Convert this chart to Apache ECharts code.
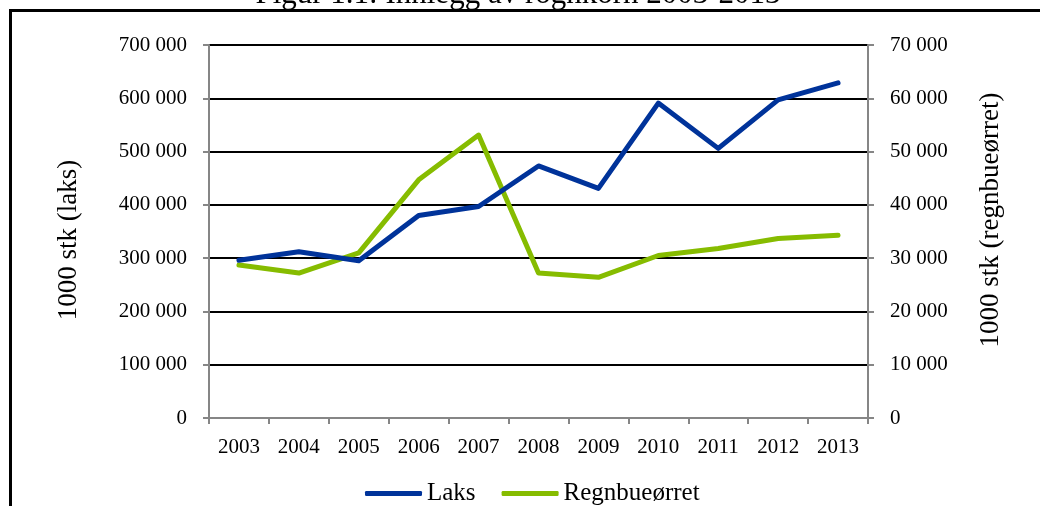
<!DOCTYPE html>
<html>
<head>
<meta charset="utf-8">
<script src="https://cdn.jsdelivr.net/npm/echarts@6/dist/echarts.min.js"></script>
<style>
html,body{margin:0;padding:0;background:#fff;}
#c{width:1040px;height:506px;}
</style>
</head>
<body>
<div id="c"></div>
<script>
const titleText = 'Figur 1.1: Innlegg av rognkorn 2003-2013';
const years = ['2003','2004','2005','2006','2007','2008','2009','2010','2011','2012','2013'];
const laks = [296000, 312000, 295000, 380000, 397000, 473000, 431000, 591000, 506000, 597000, 629000];
const regnbueorret = [28700, 27200, 31000, 44700, 53100, 27200, 26400, 30500, 31800, 33700, 34300];
const leftName = '1000 stk (laks)';
const rightName = '1000 stk (regnbueørret)';
const seriesNames = ['Laks', 'Regnbueørret'];

const FONT = 'Liberation Serif';
const fmt = v => v === 0 ? '0' : String(v).replace(/\B(?=(\d{3})+(?!\d))/g, ' ');

const chart = echarts.init(document.getElementById('c'), null, {renderer: 'canvas'});
chart.setOption({
  animation: false,
  backgroundColor: '#fff',
  textStyle: {fontFamily: FONT, color: '#000'},
  graphic: [
    {type: 'text', x: 518, y: 10, style: {text: titleText, font: '31px "Liberation Serif"', fill: '#000', textAlign: 'center', textVerticalAlign: 'bottom'}, z: 99},
    {type: 'rect', shape: {x: 10.5, y: 10.5, width: 1200, height: 700}, style: {fill: 'none', stroke: '#000', lineWidth: 3}, z: 100},
    {type: 'text', x: 69, y: 240, rotation: Math.PI / 2, style: {text: leftName, font: '27px "Liberation Serif"', fill: '#000', textAlign: 'center', textVerticalAlign: 'middle'}, z: 100},
    {type: 'text', x: 991, y: 220, rotation: Math.PI / 2, style: {text: rightName, font: '27px "Liberation Serif"', fill: '#000', textAlign: 'center', textVerticalAlign: 'middle'}, z: 100}
  ],
  grid: {left: 209, right: 172, top: 45, bottom: 88, containLabel: false},
  legend: {
    left: 360, top: 476,
    itemWidth: 57, itemHeight: 5, itemGap: 26,
    icon: 'roundRect',
    textStyle: {fontFamily: FONT, fontSize: 25, color: '#000'},
    data: seriesNames
  },
  xAxis: {
    type: 'category', data: years, boundaryGap: true,
    axisLine: {lineStyle: {color: '#868686', width: 2}},
    axisTick: {show: true, interval: 0, length: 6, lineStyle: {color: '#868686', width: 2}},
    axisLabel: {fontFamily: FONT, fontSize: 21, color: '#000', margin: 19, interval: 0}
  },
  yAxis: [
    {
      type: 'value', min: 0, max: 700000, interval: 100000, position: 'left',
      axisLine: {show: true, lineStyle: {color: '#868686', width: 2}},
      axisTick: {show: true, length: 6, lineStyle: {color: '#868686', width: 2}},
      axisLabel: {fontFamily: FONT, fontSize: 21, color: '#000', margin: 22, formatter: fmt},
      splitLine: {show: true, lineStyle: {color: '#000', width: 2}}
    },
    {
      type: 'value', min: 0, max: 70000, interval: 10000, position: 'right',
      axisLine: {show: true, lineStyle: {color: '#868686', width: 2}},
      axisTick: {show: true, length: 6, lineStyle: {color: '#868686', width: 2}},
      axisLabel: {fontFamily: FONT, fontSize: 21, color: '#000', margin: 22, formatter: fmt},
      splitLine: {show: false}
    }
  ],
  series: [
    {name: seriesNames[0], type: 'line', yAxisIndex: 0, data: laks, showSymbol: false, symbol: 'none',
     lineStyle: {color: '#00339A', width: 5, cap: 'round', join: 'round'}, itemStyle: {color: '#00339A'}, z: 3},
    {name: seriesNames[1], type: 'line', yAxisIndex: 1, data: regnbueorret, showSymbol: false, symbol: 'none',
     lineStyle: {color: '#86BC00', width: 5, cap: 'round', join: 'round'}, itemStyle: {color: '#86BC00'}, z: 2}
  ]
});
</script>
</body>
</html>
